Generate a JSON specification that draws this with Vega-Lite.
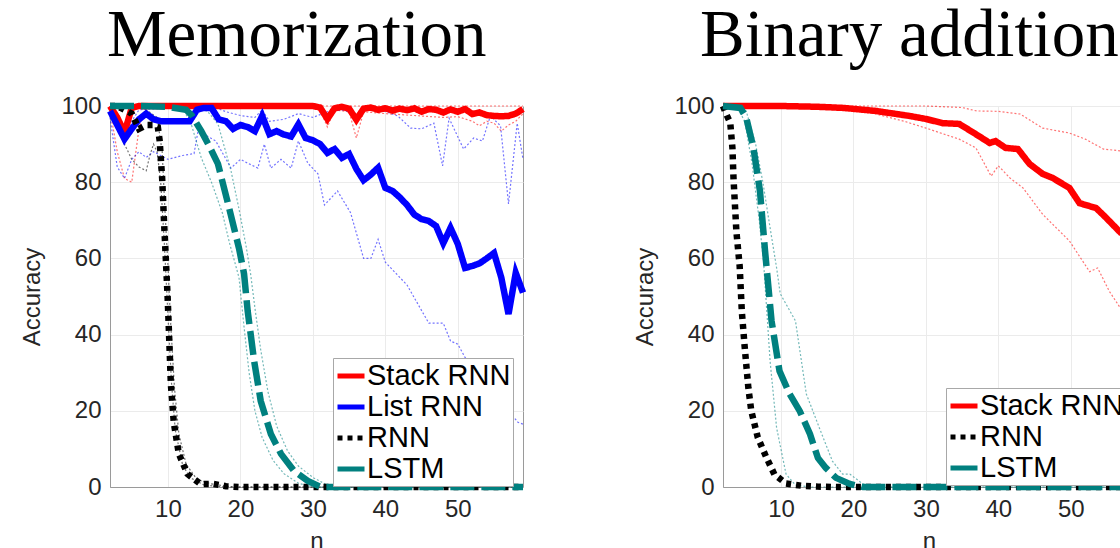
{
"$schema":"https://vega.github.io/schema/vega-lite/v6.json",
"padding":{"left":20,"top":1,"right":0,"bottom":0},
"background":"white",
"config":{
 "font":"Liberation Sans",
 "view":{"stroke":"#9a9a9a","strokeWidth":1},
 "axis":{"labelFont":"Liberation Sans","labelFontSize":24,"labelColor":"#262626","titleFont":"Liberation Sans","titleFontSize":24,"titleFontWeight":"normal","titleColor":"#262626","domainColor":"#9a9a9a","gridColor":"#ebebeb","gridOpacity":1,"ticks":false,"labelPadding":9},
 "title":{"font":"Liberation Serif","fontSize":67,"fontWeight":"normal","color":"#000000","anchor":"start","frame":"group","baseline":"alphabetic","offset":23}
},
"datasets":{
"mem":[
{"n":2,"acc":100,"series":"Stack RNN","bound":"m"},{"n":3,"acc":97,"series":"Stack RNN","bound":"m"},{"n":4,"acc":93,"series":"Stack RNN","bound":"m"},{"n":5,"acc":99.5,"series":"Stack RNN","bound":"m"},{"n":6,"acc":100,"series":"Stack RNN","bound":"m"},{"n":10,"acc":100,"series":"Stack RNN","bound":"m"},{"n":20,"acc":100,"series":"Stack RNN","bound":"m"},{"n":30,"acc":100,"series":"Stack RNN","bound":"m"},{"n":31,"acc":99.6,"series":"Stack RNN","bound":"m"},{"n":32,"acc":96.6,"series":"Stack RNN","bound":"m"},{"n":33,"acc":99.4,"series":"Stack RNN","bound":"m"},{"n":34,"acc":99.8,"series":"Stack RNN","bound":"m"},{"n":35,"acc":99.3,"series":"Stack RNN","bound":"m"},{"n":36,"acc":96.4,"series":"Stack RNN","bound":"m"},{"n":37,"acc":99.3,"series":"Stack RNN","bound":"m"},{"n":38,"acc":99.6,"series":"Stack RNN","bound":"m"},{"n":39,"acc":99,"series":"Stack RNN","bound":"m"},{"n":40,"acc":99.4,"series":"Stack RNN","bound":"m"},{"n":41,"acc":98.8,"series":"Stack RNN","bound":"m"},{"n":42,"acc":99.3,"series":"Stack RNN","bound":"m"},{"n":43,"acc":98.9,"series":"Stack RNN","bound":"m"},{"n":44,"acc":99.4,"series":"Stack RNN","bound":"m"},{"n":45,"acc":98.5,"series":"Stack RNN","bound":"m"},{"n":46,"acc":99.2,"series":"Stack RNN","bound":"m"},{"n":47,"acc":99,"series":"Stack RNN","bound":"m"},{"n":48,"acc":98.3,"series":"Stack RNN","bound":"m"},{"n":49,"acc":99.1,"series":"Stack RNN","bound":"m"},{"n":50,"acc":98.5,"series":"Stack RNN","bound":"m"},{"n":51,"acc":99.2,"series":"Stack RNN","bound":"m"},{"n":52,"acc":97.9,"series":"Stack RNN","bound":"m"},{"n":53,"acc":98.3,"series":"Stack RNN","bound":"m"},{"n":54,"acc":97.6,"series":"Stack RNN","bound":"m"},{"n":55,"acc":97.4,"series":"Stack RNN","bound":"m"},{"n":56,"acc":97.3,"series":"Stack RNN","bound":"m"},{"n":57,"acc":97.4,"series":"Stack RNN","bound":"m"},{"n":58,"acc":98,"series":"Stack RNN","bound":"m"},{"n":59,"acc":99.2,"series":"Stack RNN","bound":"m"},
{"n":2,"acc":100,"series":"Stack RNN","bound":"u"},{"n":30,"acc":100,"series":"Stack RNN","bound":"u"},{"n":59,"acc":100,"series":"Stack RNN","bound":"u"},
{"n":2,"acc":99,"series":"Stack RNN","bound":"l"},{"n":3,"acc":88,"series":"Stack RNN","bound":"l"},{"n":4,"acc":81,"series":"Stack RNN","bound":"l"},{"n":5,"acc":80,"series":"Stack RNN","bound":"l"},{"n":6,"acc":94,"series":"Stack RNN","bound":"l"},{"n":7,"acc":100,"series":"Stack RNN","bound":"l"},{"n":30,"acc":100,"series":"Stack RNN","bound":"l"},{"n":31,"acc":99,"series":"Stack RNN","bound":"l"},{"n":32,"acc":94.5,"series":"Stack RNN","bound":"l"},{"n":33,"acc":99,"series":"Stack RNN","bound":"l"},{"n":35,"acc":98.5,"series":"Stack RNN","bound":"l"},{"n":36,"acc":91.6,"series":"Stack RNN","bound":"l"},{"n":37,"acc":98.5,"series":"Stack RNN","bound":"l"},{"n":40,"acc":98,"series":"Stack RNN","bound":"l"},{"n":44,"acc":97.5,"series":"Stack RNN","bound":"l"},{"n":48,"acc":97,"series":"Stack RNN","bound":"l"},{"n":50,"acc":97.2,"series":"Stack RNN","bound":"l"},{"n":52,"acc":96,"series":"Stack RNN","bound":"l"},{"n":53,"acc":94.8,"series":"Stack RNN","bound":"l"},{"n":54,"acc":96,"series":"Stack RNN","bound":"l"},{"n":55,"acc":95.5,"series":"Stack RNN","bound":"l"},{"n":56,"acc":93.4,"series":"Stack RNN","bound":"l"},{"n":57,"acc":95,"series":"Stack RNN","bound":"l"},{"n":58,"acc":96,"series":"Stack RNN","bound":"l"},{"n":59,"acc":98,"series":"Stack RNN","bound":"l"},
{"n":2,"acc":98.7,"series":"List RNN","bound":"m"},{"n":3,"acc":95,"series":"List RNN","bound":"m"},{"n":4,"acc":91.3,"series":"List RNN","bound":"m"},{"n":5,"acc":94,"series":"List RNN","bound":"m"},{"n":6,"acc":96.5,"series":"List RNN","bound":"m"},{"n":7,"acc":98,"series":"List RNN","bound":"m"},{"n":8,"acc":96.5,"series":"List RNN","bound":"m"},{"n":9,"acc":96,"series":"List RNN","bound":"m"},{"n":11,"acc":96,"series":"List RNN","bound":"m"},{"n":13,"acc":96,"series":"List RNN","bound":"m"},{"n":14,"acc":99,"series":"List RNN","bound":"m"},{"n":15,"acc":99.5,"series":"List RNN","bound":"m"},{"n":16,"acc":99.5,"series":"List RNN","bound":"m"},{"n":17,"acc":96.5,"series":"List RNN","bound":"m"},{"n":18,"acc":96,"series":"List RNN","bound":"m"},{"n":19,"acc":94,"series":"List RNN","bound":"m"},{"n":20,"acc":95,"series":"List RNN","bound":"m"},{"n":21,"acc":94.5,"series":"List RNN","bound":"m"},{"n":22,"acc":93.4,"series":"List RNN","bound":"m"},{"n":23,"acc":97.4,"series":"List RNN","bound":"m"},{"n":24,"acc":92.6,"series":"List RNN","bound":"m"},{"n":25,"acc":93.4,"series":"List RNN","bound":"m"},{"n":26,"acc":92.5,"series":"List RNN","bound":"m"},{"n":27,"acc":92,"series":"List RNN","bound":"m"},{"n":28,"acc":95.2,"series":"List RNN","bound":"m"},{"n":29,"acc":91.6,"series":"List RNN","bound":"m"},{"n":30,"acc":91,"series":"List RNN","bound":"m"},{"n":31,"acc":90,"series":"List RNN","bound":"m"},{"n":32,"acc":87.7,"series":"List RNN","bound":"m"},{"n":33,"acc":88.7,"series":"List RNN","bound":"m"},{"n":34,"acc":86.4,"series":"List RNN","bound":"m"},{"n":35,"acc":87.4,"series":"List RNN","bound":"m"},{"n":36,"acc":83.5,"series":"List RNN","bound":"m"},{"n":37,"acc":80.5,"series":"List RNN","bound":"m"},{"n":38,"acc":82,"series":"List RNN","bound":"m"},{"n":39,"acc":83.8,"series":"List RNN","bound":"m"},{"n":40,"acc":78.5,"series":"List RNN","bound":"m"},{"n":41,"acc":77.7,"series":"List RNN","bound":"m"},{"n":42,"acc":76,"series":"List RNN","bound":"m"},{"n":43,"acc":74,"series":"List RNN","bound":"m"},{"n":44,"acc":71.5,"series":"List RNN","bound":"m"},{"n":45,"acc":70.3,"series":"List RNN","bound":"m"},{"n":46,"acc":69.8,"series":"List RNN","bound":"m"},{"n":47,"acc":68.5,"series":"List RNN","bound":"m"},{"n":48,"acc":64,"series":"List RNN","bound":"m"},{"n":49,"acc":68,"series":"List RNN","bound":"m"},{"n":50,"acc":63.8,"series":"List RNN","bound":"m"},{"n":51,"acc":57.5,"series":"List RNN","bound":"m"},{"n":52,"acc":58,"series":"List RNN","bound":"m"},{"n":53,"acc":58.7,"series":"List RNN","bound":"m"},{"n":54,"acc":60,"series":"List RNN","bound":"m"},{"n":55,"acc":61.4,"series":"List RNN","bound":"m"},{"n":56,"acc":55,"series":"List RNN","bound":"m"},{"n":57,"acc":45.4,"series":"List RNN","bound":"m"},{"n":58,"acc":56.2,"series":"List RNN","bound":"m"},{"n":59,"acc":51,"series":"List RNN","bound":"m"},
{"n":2,"acc":99,"series":"List RNN","bound":"u"},{"n":3,"acc":95,"series":"List RNN","bound":"u"},{"n":4,"acc":90,"series":"List RNN","bound":"u"},{"n":5,"acc":96,"series":"List RNN","bound":"u"},{"n":6,"acc":99,"series":"List RNN","bound":"u"},{"n":10,"acc":99.5,"series":"List RNN","bound":"u"},{"n":16,"acc":100,"series":"List RNN","bound":"u"},{"n":18,"acc":98.5,"series":"List RNN","bound":"u"},{"n":20,"acc":97.5,"series":"List RNN","bound":"u"},{"n":22,"acc":97,"series":"List RNN","bound":"u"},{"n":23,"acc":99,"series":"List RNN","bound":"u"},{"n":24,"acc":96,"series":"List RNN","bound":"u"},{"n":26,"acc":96.5,"series":"List RNN","bound":"u"},{"n":28,"acc":98,"series":"List RNN","bound":"u"},{"n":30,"acc":97,"series":"List RNN","bound":"u"},{"n":32,"acc":98.5,"series":"List RNN","bound":"u"},{"n":34,"acc":99,"series":"List RNN","bound":"u"},{"n":36,"acc":98,"series":"List RNN","bound":"u"},{"n":38,"acc":99.5,"series":"List RNN","bound":"u"},{"n":39.8,"acc":98.7,"series":"List RNN","bound":"u"},{"n":41.7,"acc":97.4,"series":"List RNN","bound":"u"},{"n":43.5,"acc":94.2,"series":"List RNN","bound":"u"},{"n":45,"acc":94,"series":"List RNN","bound":"u"},{"n":46.7,"acc":95.5,"series":"List RNN","bound":"u"},{"n":47.9,"acc":84.3,"series":"List RNN","bound":"u"},{"n":48.8,"acc":96.8,"series":"List RNN","bound":"u"},{"n":50.8,"acc":88.7,"series":"List RNN","bound":"u"},{"n":52.2,"acc":91.6,"series":"List RNN","bound":"u"},{"n":53.4,"acc":90.8,"series":"List RNN","bound":"u"},{"n":54.5,"acc":97.4,"series":"List RNN","bound":"u"},{"n":55.9,"acc":94.8,"series":"List RNN","bound":"u"},{"n":57,"acc":74.3,"series":"List RNN","bound":"u"},{"n":58.2,"acc":95.5,"series":"List RNN","bound":"u"},{"n":59,"acc":86,"series":"List RNN","bound":"u"},
{"n":2,"acc":97,"series":"List RNN","bound":"l"},{"n":3,"acc":84,"series":"List RNN","bound":"l"},{"n":4,"acc":81,"series":"List RNN","bound":"l"},{"n":5,"acc":86,"series":"List RNN","bound":"l"},{"n":6,"acc":88,"series":"List RNN","bound":"l"},{"n":7,"acc":86.5,"series":"List RNN","bound":"l"},{"n":8,"acc":88,"series":"List RNN","bound":"l"},{"n":10,"acc":86,"series":"List RNN","bound":"l"},{"n":12,"acc":87,"series":"List RNN","bound":"l"},{"n":13.6,"acc":87.5,"series":"List RNN","bound":"l"},{"n":14.2,"acc":94,"series":"List RNN","bound":"l"},{"n":15.5,"acc":92,"series":"List RNN","bound":"l"},{"n":16.6,"acc":90.8,"series":"List RNN","bound":"l"},{"n":18.7,"acc":83.7,"series":"List RNN","bound":"l"},{"n":20,"acc":86,"series":"List RNN","bound":"l"},{"n":21,"acc":85,"series":"List RNN","bound":"l"},{"n":22.4,"acc":83.7,"series":"List RNN","bound":"l"},{"n":23.3,"acc":90,"series":"List RNN","bound":"l"},{"n":24.2,"acc":83.7,"series":"List RNN","bound":"l"},{"n":25.6,"acc":86,"series":"List RNN","bound":"l"},{"n":27,"acc":83.7,"series":"List RNN","bound":"l"},{"n":28,"acc":90.8,"series":"List RNN","bound":"l"},{"n":29.3,"acc":85,"series":"List RNN","bound":"l"},{"n":30.7,"acc":82.2,"series":"List RNN","bound":"l"},{"n":31.6,"acc":74,"series":"List RNN","bound":"l"},{"n":33.4,"acc":77.7,"series":"List RNN","bound":"l"},{"n":35.2,"acc":72,"series":"List RNN","bound":"l"},{"n":37,"acc":60,"series":"List RNN","bound":"l"},{"n":38,"acc":60,"series":"List RNN","bound":"l"},{"n":39,"acc":65,"series":"List RNN","bound":"l"},{"n":40,"acc":59,"series":"List RNN","bound":"l"},{"n":43,"acc":53,"series":"List RNN","bound":"l"},{"n":46,"acc":43,"series":"List RNN","bound":"l"},{"n":48,"acc":43,"series":"List RNN","bound":"l"},{"n":49,"acc":38.3,"series":"List RNN","bound":"l"},{"n":50,"acc":37.5,"series":"List RNN","bound":"l"},{"n":51,"acc":34,"series":"List RNN","bound":"l"},{"n":53,"acc":29,"series":"List RNN","bound":"l"},{"n":55,"acc":24,"series":"List RNN","bound":"l"},{"n":57,"acc":20,"series":"List RNN","bound":"l"},{"n":58.3,"acc":17,"series":"List RNN","bound":"l"},{"n":59,"acc":16.5,"series":"List RNN","bound":"l"},
{"n":2,"acc":100,"series":"RNN","bound":"m"},{"n":3,"acc":100,"series":"RNN","bound":"m"},{"n":4,"acc":99,"series":"RNN","bound":"m"},{"n":5,"acc":98,"series":"RNN","bound":"m"},{"n":5.5,"acc":96,"series":"RNN","bound":"m"},{"n":6,"acc":94,"series":"RNN","bound":"m"},{"n":7,"acc":95,"series":"RNN","bound":"m"},{"n":8,"acc":95,"series":"RNN","bound":"m"},{"n":8.6,"acc":94.5,"series":"RNN","bound":"m"},{"n":8.85,"acc":91,"series":"RNN","bound":"m"},{"n":9.2,"acc":81,"series":"RNN","bound":"m"},{"n":9.45,"acc":70,"series":"RNN","bound":"m"},{"n":9.7,"acc":60,"series":"RNN","bound":"m"},{"n":9.95,"acc":50,"series":"RNN","bound":"m"},{"n":10.15,"acc":40,"series":"RNN","bound":"m"},{"n":10.4,"acc":27,"series":"RNN","bound":"m"},{"n":10.8,"acc":17,"series":"RNN","bound":"m"},{"n":11.5,"acc":8.7,"series":"RNN","bound":"m"},{"n":12.7,"acc":3.4,"series":"RNN","bound":"m"},{"n":14.5,"acc":0.8,"series":"RNN","bound":"m"},{"n":16.3,"acc":0.8,"series":"RNN","bound":"m"},{"n":18,"acc":0.2,"series":"RNN","bound":"m"},{"n":20,"acc":0,"series":"RNN","bound":"m"},{"n":59,"acc":0,"series":"RNN","bound":"m"},
{"n":2,"acc":100,"series":"RNN","bound":"l"},{"n":3,"acc":96,"series":"RNN","bound":"l"},{"n":4,"acc":90,"series":"RNN","bound":"l"},{"n":5,"acc":86,"series":"RNN","bound":"l"},{"n":6,"acc":84,"series":"RNN","bound":"l"},{"n":7,"acc":83,"series":"RNN","bound":"l"},{"n":7.5,"acc":87,"series":"RNN","bound":"l"},{"n":8,"acc":90,"series":"RNN","bound":"l"},{"n":8.5,"acc":88,"series":"RNN","bound":"l"},{"n":9,"acc":80,"series":"RNN","bound":"l"},{"n":9.5,"acc":64,"series":"RNN","bound":"l"},{"n":10,"acc":45,"series":"RNN","bound":"l"},{"n":10.5,"acc":27,"series":"RNN","bound":"l"},{"n":11,"acc":15,"series":"RNN","bound":"l"},{"n":12,"acc":6,"series":"RNN","bound":"l"},{"n":13,"acc":2.5,"series":"RNN","bound":"l"},{"n":15,"acc":0.5,"series":"RNN","bound":"l"},{"n":18,"acc":0,"series":"RNN","bound":"l"},{"n":59,"acc":0,"series":"RNN","bound":"l"},
{"n":2,"acc":100,"series":"RNN","bound":"u"},{"n":5,"acc":100,"series":"RNN","bound":"u"},{"n":7,"acc":99,"series":"RNN","bound":"u"},{"n":8.5,"acc":97,"series":"RNN","bound":"u"},{"n":9.2,"acc":88,"series":"RNN","bound":"u"},{"n":9.6,"acc":72,"series":"RNN","bound":"u"},{"n":10,"acc":58,"series":"RNN","bound":"u"},{"n":10.4,"acc":42,"series":"RNN","bound":"u"},{"n":10.9,"acc":26,"series":"RNN","bound":"u"},{"n":11.5,"acc":14,"series":"RNN","bound":"u"},{"n":12.5,"acc":6,"series":"RNN","bound":"u"},{"n":14,"acc":2,"series":"RNN","bound":"u"},{"n":16,"acc":0.8,"series":"RNN","bound":"u"},{"n":19,"acc":0,"series":"RNN","bound":"u"},{"n":59,"acc":0,"series":"RNN","bound":"u"},
{"n":2,"acc":100,"series":"LSTM","bound":"m"},{"n":6,"acc":100,"series":"LSTM","bound":"m"},{"n":10,"acc":99.8,"series":"LSTM","bound":"m"},{"n":12.5,"acc":99,"series":"LSTM","bound":"m"},{"n":13.3,"acc":97.5,"series":"LSTM","bound":"m"},{"n":14.6,"acc":93.4,"series":"LSTM","bound":"m"},{"n":15.7,"acc":89.5,"series":"LSTM","bound":"m"},{"n":16.9,"acc":84.8,"series":"LSTM","bound":"m"},{"n":18.3,"acc":74.3,"series":"LSTM","bound":"m"},{"n":19.8,"acc":62.7,"series":"LSTM","bound":"m"},{"n":20.5,"acc":56,"series":"LSTM","bound":"m"},{"n":21,"acc":46.2,"series":"LSTM","bound":"m"},{"n":21.9,"acc":33,"series":"LSTM","bound":"m"},{"n":22.8,"acc":22.6,"series":"LSTM","bound":"m"},{"n":24.2,"acc":13.9,"series":"LSTM","bound":"m"},{"n":25.6,"acc":8.7,"series":"LSTM","bound":"m"},{"n":27.4,"acc":4.2,"series":"LSTM","bound":"m"},{"n":29.3,"acc":1.6,"series":"LSTM","bound":"m"},{"n":31.1,"acc":0,"series":"LSTM","bound":"m"},{"n":59,"acc":0,"series":"LSTM","bound":"m"},
{"n":2,"acc":100,"series":"LSTM","bound":"l"},{"n":12,"acc":99.5,"series":"LSTM","bound":"l"},{"n":13.2,"acc":95.3,"series":"LSTM","bound":"l"},{"n":14.6,"acc":86.4,"series":"LSTM","bound":"l"},{"n":16,"acc":80,"series":"LSTM","bound":"l"},{"n":17.5,"acc":72,"series":"LSTM","bound":"l"},{"n":18.5,"acc":64,"series":"LSTM","bound":"l"},{"n":19.8,"acc":55,"series":"LSTM","bound":"l"},{"n":20.5,"acc":42,"series":"LSTM","bound":"l"},{"n":21.2,"acc":30,"series":"LSTM","bound":"l"},{"n":22,"acc":20,"series":"LSTM","bound":"l"},{"n":23,"acc":13,"series":"LSTM","bound":"l"},{"n":24.5,"acc":7,"series":"LSTM","bound":"l"},{"n":26,"acc":3.5,"series":"LSTM","bound":"l"},{"n":28,"acc":1,"series":"LSTM","bound":"l"},{"n":30,"acc":0,"series":"LSTM","bound":"l"},{"n":59,"acc":0,"series":"LSTM","bound":"l"},
{"n":2,"acc":100,"series":"LSTM","bound":"u"},{"n":14,"acc":100,"series":"LSTM","bound":"u"},{"n":15.5,"acc":98.5,"series":"LSTM","bound":"u"},{"n":16.9,"acc":95.3,"series":"LSTM","bound":"u"},{"n":18.7,"acc":83,"series":"LSTM","bound":"u"},{"n":19.8,"acc":73,"series":"LSTM","bound":"u"},{"n":20.8,"acc":63,"series":"LSTM","bound":"u"},{"n":21.4,"acc":56,"series":"LSTM","bound":"u"},{"n":22,"acc":47,"series":"LSTM","bound":"u"},{"n":22.8,"acc":36,"series":"LSTM","bound":"u"},{"n":23.8,"acc":25,"series":"LSTM","bound":"u"},{"n":25,"acc":16,"series":"LSTM","bound":"u"},{"n":26.5,"acc":9.5,"series":"LSTM","bound":"u"},{"n":28,"acc":5.5,"series":"LSTM","bound":"u"},{"n":30,"acc":2.5,"series":"LSTM","bound":"u"},{"n":32,"acc":0.5,"series":"LSTM","bound":"u"},{"n":34,"acc":0,"series":"LSTM","bound":"u"},{"n":59,"acc":0,"series":"LSTM","bound":"u"}
],
"bin":[
{"n":2,"acc":100,"series":"Stack RNN","bound":"m"},{"n":10,"acc":100,"series":"Stack RNN","bound":"m"},{"n":15,"acc":99.8,"series":"Stack RNN","bound":"m"},{"n":18.6,"acc":99.5,"series":"Stack RNN","bound":"m"},{"n":23.1,"acc":98.7,"series":"Stack RNN","bound":"m"},{"n":27.7,"acc":97.4,"series":"Stack RNN","bound":"m"},{"n":30,"acc":96.6,"series":"Stack RNN","bound":"m"},{"n":32.3,"acc":95.5,"series":"Stack RNN","bound":"m"},{"n":34.6,"acc":95.3,"series":"Stack RNN","bound":"m"},{"n":36.9,"acc":92.6,"series":"Stack RNN","bound":"m"},{"n":38.8,"acc":90.3,"series":"Stack RNN","bound":"m"},{"n":39.6,"acc":90.8,"series":"Stack RNN","bound":"m"},{"n":41,"acc":89,"series":"Stack RNN","bound":"m"},{"n":42.7,"acc":88.7,"series":"Stack RNN","bound":"m"},{"n":44.3,"acc":84.8,"series":"Stack RNN","bound":"m"},{"n":46.1,"acc":82.2,"series":"Stack RNN","bound":"m"},{"n":47.5,"acc":81.1,"series":"Stack RNN","bound":"m"},{"n":49.8,"acc":78.5,"series":"Stack RNN","bound":"m"},{"n":51.2,"acc":74.5,"series":"Stack RNN","bound":"m"},{"n":53.5,"acc":73.2,"series":"Stack RNN","bound":"m"},{"n":54.9,"acc":70.6,"series":"Stack RNN","bound":"m"},{"n":57,"acc":66.5,"series":"Stack RNN","bound":"m"},
{"n":2,"acc":100,"series":"Stack RNN","bound":"u"},{"n":30,"acc":100,"series":"Stack RNN","bound":"u"},{"n":35,"acc":99.6,"series":"Stack RNN","bound":"u"},{"n":37,"acc":98.7,"series":"Stack RNN","bound":"u"},{"n":40,"acc":98.6,"series":"Stack RNN","bound":"u"},{"n":43,"acc":97.9,"series":"Stack RNN","bound":"u"},{"n":46.1,"acc":94.2,"series":"Stack RNN","bound":"u"},{"n":49.8,"acc":92.9,"series":"Stack RNN","bound":"u"},{"n":52,"acc":91.3,"series":"Stack RNN","bound":"u"},{"n":54.5,"acc":88.7,"series":"Stack RNN","bound":"u"},{"n":57,"acc":88.2,"series":"Stack RNN","bound":"u"},
{"n":2,"acc":100,"series":"Stack RNN","bound":"l"},{"n":18,"acc":99.5,"series":"Stack RNN","bound":"l"},{"n":23.1,"acc":97.9,"series":"Stack RNN","bound":"l"},{"n":27,"acc":96,"series":"Stack RNN","bound":"l"},{"n":30,"acc":94.2,"series":"Stack RNN","bound":"l"},{"n":34.6,"acc":91.3,"series":"Stack RNN","bound":"l"},{"n":36.9,"acc":89,"series":"Stack RNN","bound":"l"},{"n":39,"acc":81.6,"series":"Stack RNN","bound":"l"},{"n":40,"acc":84.3,"series":"Stack RNN","bound":"l"},{"n":41.6,"acc":81.1,"series":"Stack RNN","bound":"l"},{"n":43.4,"acc":78.5,"series":"Stack RNN","bound":"l"},{"n":46.1,"acc":71.6,"series":"Stack RNN","bound":"l"},{"n":49.8,"acc":64.6,"series":"Stack RNN","bound":"l"},{"n":52.6,"acc":56.5,"series":"Stack RNN","bound":"l"},{"n":53.7,"acc":57.5,"series":"Stack RNN","bound":"l"},{"n":55.3,"acc":51.4,"series":"Stack RNN","bound":"l"},{"n":57,"acc":46.5,"series":"Stack RNN","bound":"l"},
{"n":2,"acc":100,"series":"RNN","bound":"m"},{"n":2.3,"acc":98.5,"series":"RNN","bound":"m"},{"n":3,"acc":95.6,"series":"RNN","bound":"m"},{"n":3.3,"acc":89,"series":"RNN","bound":"m"},{"n":3.45,"acc":81,"series":"RNN","bound":"m"},{"n":3.85,"acc":67,"series":"RNN","bound":"m"},{"n":4.3,"acc":58,"series":"RNN","bound":"m"},{"n":4.6,"acc":46,"series":"RNN","bound":"m"},{"n":5,"acc":36.6,"series":"RNN","bound":"m"},{"n":5.5,"acc":26,"series":"RNN","bound":"m"},{"n":5.9,"acc":20,"series":"RNN","bound":"m"},{"n":6.8,"acc":13,"series":"RNN","bound":"m"},{"n":8,"acc":7.7,"series":"RNN","bound":"m"},{"n":9.1,"acc":3.3,"series":"RNN","bound":"m"},{"n":10.7,"acc":0.9,"series":"RNN","bound":"m"},{"n":13,"acc":0.3,"series":"RNN","bound":"m"},{"n":15,"acc":0.1,"series":"RNN","bound":"m"},{"n":17,"acc":0,"series":"RNN","bound":"m"},{"n":57,"acc":0,"series":"RNN","bound":"m"},
{"n":2,"acc":100,"series":"LSTM","bound":"m"},{"n":4.4,"acc":99.5,"series":"LSTM","bound":"m"},{"n":5.2,"acc":97,"series":"LSTM","bound":"m"},{"n":6.2,"acc":89,"series":"LSTM","bound":"m"},{"n":7.1,"acc":77.7,"series":"LSTM","bound":"m"},{"n":7.8,"acc":62,"series":"LSTM","bound":"m"},{"n":8.7,"acc":43.6,"series":"LSTM","bound":"m"},{"n":9.8,"acc":30.4,"series":"LSTM","bound":"m"},{"n":11.2,"acc":24.4,"series":"LSTM","bound":"m"},{"n":12.6,"acc":19.9,"series":"LSTM","bound":"m"},{"n":14,"acc":13.9,"series":"LSTM","bound":"m"},{"n":15.1,"acc":7.6,"series":"LSTM","bound":"m"},{"n":16.2,"acc":5,"series":"LSTM","bound":"m"},{"n":17.6,"acc":2.4,"series":"LSTM","bound":"m"},{"n":19.5,"acc":0.8,"series":"LSTM","bound":"m"},{"n":21.3,"acc":0,"series":"LSTM","bound":"m"},{"n":57,"acc":0,"series":"LSTM","bound":"m"},
{"n":2,"acc":100,"series":"LSTM","bound":"l"},{"n":4,"acc":99.5,"series":"LSTM","bound":"l"},{"n":5,"acc":96,"series":"LSTM","bound":"l"},{"n":6,"acc":85,"series":"LSTM","bound":"l"},{"n":7,"acc":70,"series":"LSTM","bound":"l"},{"n":7.6,"acc":59,"series":"LSTM","bound":"l"},{"n":8.5,"acc":33,"series":"LSTM","bound":"l"},{"n":9.4,"acc":15.5,"series":"LSTM","bound":"l"},{"n":10.7,"acc":3.4,"series":"LSTM","bound":"l"},{"n":12,"acc":0.5,"series":"LSTM","bound":"l"},{"n":14,"acc":0,"series":"LSTM","bound":"l"},{"n":57,"acc":0,"series":"LSTM","bound":"l"},
{"n":2,"acc":100,"series":"LSTM","bound":"u"},{"n":4.5,"acc":100,"series":"LSTM","bound":"u"},{"n":5.2,"acc":98.7,"series":"LSTM","bound":"u"},{"n":6.5,"acc":90,"series":"LSTM","bound":"u"},{"n":7.5,"acc":80,"series":"LSTM","bound":"u"},{"n":8.5,"acc":68,"series":"LSTM","bound":"u"},{"n":9.4,"acc":57.5,"series":"LSTM","bound":"u"},{"n":9.9,"acc":50.7,"series":"LSTM","bound":"u"},{"n":11,"acc":47,"series":"LSTM","bound":"u"},{"n":12,"acc":43.6,"series":"LSTM","bound":"u"},{"n":13.5,"acc":24.4,"series":"LSTM","bound":"u"},{"n":15.3,"acc":15.5,"series":"LSTM","bound":"u"},{"n":17.1,"acc":6.8,"series":"LSTM","bound":"u"},{"n":18.5,"acc":3.4,"series":"LSTM","bound":"u"},{"n":19.5,"acc":3.4,"series":"LSTM","bound":"u"},{"n":21.3,"acc":0.8,"series":"LSTM","bound":"u"},{"n":23,"acc":0,"series":"LSTM","bound":"u"},{"n":57,"acc":0,"series":"LSTM","bound":"u"}
]
},
"resolve":{"scale":{"color":"independent","strokeDash":"independent"},"legend":{"color":"independent","strokeDash":"independent"}},
"spacing":96,
"hconcat":[
{
 "title":{"text":"Memorization","dx":-3},
 "width":413,"height":381,
 "data":{"name":"mem"},
 "encoding":{
  "x":{"field":"n","type":"quantitative","scale":{"domain":[2,59],"nice":false,"zero":false},"axis":{"title":"n","values":[10,20,30,40,50],"grid":true,"titlePadding":8,"labelPadding":10}},
  "y":{"field":"acc","type":"quantitative","scale":{"domain":[0,100],"nice":false},"axis":{"title":"Accuracy","values":[0,20,40,60,80,100],"grid":true,"titlePadding":16}}
 },
 "resolve":{"scale":{"color":"independent"},"legend":{"color":"independent"}},
 "layer":[
  {"transform":[{"filter":"datum.bound != 'm'"}],
   "mark":{"type":"line","strokeWidth":1.2,"strokeDash":[2,2],"opacity":0.55},
   "encoding":{"color":{"field":"series","type":"nominal","scale":{"domain":["Stack RNN","List RNN","RNN","LSTM"],"range":["#ff0000","#0000ff","#000000","#00807f"]},"legend":null},"detail":{"field":"bound"}}},
  {"transform":[{"filter":"datum.bound == 'm'"}],
   "mark":{"type":"line","strokeWidth":6.5},
   "encoding":{
    "color":{"field":"series","type":"nominal","scale":{"domain":["Stack RNN","List RNN","RNN","LSTM"],"range":["#ff0000","#0000ff","#000000","#00807f"]},
      "legend":{"orient":"none","legendX":223,"legendY":252,"title":null,"fillColor":"white","strokeColor":"#a8a8a8","padding":2,"labelFontSize":29,"labelColor":"#000000","labelFont":"Liberation Sans","symbolType":"stroke","symbolSize":729,"symbolStrokeWidth":5,"rowPadding":-2,"labelOffset":0,
        "encode":{"symbols":{"update":{"strokeDash":{"signal":"datum.value === 'RNN' ? [5,5] : [1,0]"}}}}}},
    "strokeDash":{"field":"series","type":"nominal","scale":{"domain":["Stack RNN","List RNN","RNN","LSTM"],"range":[[1,0],[1,0],[5,5],[24,7]]},"legend":null}
   }}
 ]
},
{
 "title":{"text":"Binary addition","dx":-23},
 "width":400,"height":381,
 "data":{"name":"bin"},
 "encoding":{
  "x":{"field":"n","type":"quantitative","scale":{"domain":[2,57.2],"nice":false,"zero":false},"axis":{"title":"n","values":[10,20,30,40,50],"grid":true,"titlePadding":8,"labelPadding":10,"titleX":206}},
  "y":{"field":"acc","type":"quantitative","scale":{"domain":[0,100],"nice":false},"axis":{"title":"Accuracy","values":[0,20,40,60,80,100],"grid":true,"titlePadding":16}}
 },
 "resolve":{"scale":{"color":"independent"},"legend":{"color":"independent"}},
 "layer":[
  {"transform":[{"filter":"datum.bound != 'm'"}],
   "mark":{"type":"line","strokeWidth":1.2,"strokeDash":[2,2],"opacity":0.55},
   "encoding":{"color":{"field":"series","type":"nominal","scale":{"domain":["Stack RNN","RNN","LSTM"],"range":["#ff0000","#000000","#00807f"]},"legend":null},"detail":{"field":"bound"}}},
  {"transform":[{"filter":"datum.bound == 'm'"}],
   "mark":{"type":"line","strokeWidth":6.5},
   "encoding":{
    "color":{"field":"series","type":"nominal","scale":{"domain":["Stack RNN","RNN","LSTM"],"range":["#ff0000","#000000","#00807f"]},
      "legend":{"orient":"none","legendX":223,"legendY":282,"title":null,"fillColor":"white","strokeColor":"#a8a8a8","padding":2,"labelFontSize":29,"labelColor":"#000000","labelFont":"Liberation Sans","symbolType":"stroke","symbolSize":729,"symbolStrokeWidth":5,"rowPadding":-2,"labelOffset":0,
        "encode":{"symbols":{"update":{"strokeDash":{"signal":"datum.value === 'RNN' ? [5,5] : [1,0]"}}}}}},
    "strokeDash":{"field":"series","type":"nominal","scale":{"domain":["Stack RNN","RNN","LSTM"],"range":[[1,0],[5,5],[24,7]]},"legend":null}
   }}
 ]
}
]
}
